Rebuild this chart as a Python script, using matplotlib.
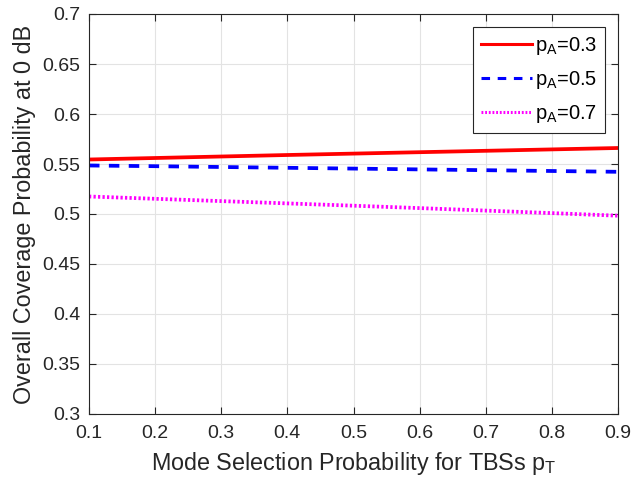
import numpy as np
import matplotlib.pyplot as plt

plt.rcParams['font.family'] = ['Liberation Sans', 'DejaVu Sans']
plt.rcParams['mathtext.fontset'] = 'custom'
plt.rcParams['mathtext.rm'] = 'Liberation Sans'
plt.rcParams['mathtext.it'] = 'Liberation Sans'

p_T = [0.1, 0.2, 0.3, 0.4, 0.5, 0.6, 0.7, 0.8, 0.9]
cov_pa03 = [0.5545, 0.5560, 0.5575, 0.5590, 0.5604, 0.5618, 0.5632, 0.5646, 0.5660]
cov_pa05 = [0.5485, 0.5478, 0.5470, 0.5462, 0.5454, 0.5446, 0.5438, 0.5430, 0.5422]
cov_pa07 = [0.5175, 0.5152, 0.5129, 0.5106, 0.5083, 0.5059, 0.5034, 0.5009, 0.4983]

fig = plt.figure(figsize=(6.36, 4.83), dpi=100)
# axes box: x 89..618 px, y 14..414 px
ax = fig.add_axes([89 / 636, 1 - 414 / 483, 529 / 636, 400 / 483])

ax.plot(p_T, cov_pa03, color='red', lw=2.7, ls='-', label=r'p$_\mathregular{A}$=0.3')
ax.plot(p_T, cov_pa05, color='blue', lw=2.7, ls=(0, (2.8, 2.5)), label=r'p$_\mathregular{A}$=0.5')
ax.plot(p_T, cov_pa07, color='magenta', lw=2.7, ls=(0, (0.6, 0.6)), label=r'p$_\mathregular{A}$=0.7')

ax.set_xlim(0.1, 0.9)
ax.set_ylim(0.3, 0.7)
ax.set_xticks(np.arange(0.1, 0.91, 0.1))
ax.set_yticks(np.arange(0.3, 0.71, 0.05))
ax.set_xticklabels(['0.1', '0.2', '0.3', '0.4', '0.5', '0.6', '0.7', '0.8', '0.9'])
ax.set_yticklabels(['0.3', '0.35', '0.4', '0.45', '0.5', '0.55', '0.6', '0.65', '0.7'])
ax.tick_params(direction='in', labelsize=14, length=5, color='#262626',
               labelcolor='#262626', top=True, right=True)
ax.tick_params(axis='x', pad=8)
ax.tick_params(axis='y', pad=6)
ax.grid(True, color='#e3e3e3', lw=0.8)
ax.set_axisbelow(True)
for s in ax.spines.values():
    s.set_color('#262626')
    s.set_linewidth(0.8)

ax.set_xlabel(r'Mode Selection Probability for TBSs p$_\mathregular{T}$', fontsize=16.8, color='#262626', labelpad=6)
ax.set_ylabel('Overall Coverage Probability at 0 dB', fontsize=16.8, color='#262626', labelpad=5)

leg = ax.legend(loc='upper right', fontsize=14.5, fancybox=False, framealpha=1,
                edgecolor='#262626', handlelength=2.5, handletextpad=0.15,
                labelspacing=0.6, borderpad=0.4, borderaxespad=0.65)
leg.get_frame().set_linewidth(0.8)
for h in leg.get_lines():
    h.set_linewidth(2.2)

fig.savefig('out.png', dpi=100)
